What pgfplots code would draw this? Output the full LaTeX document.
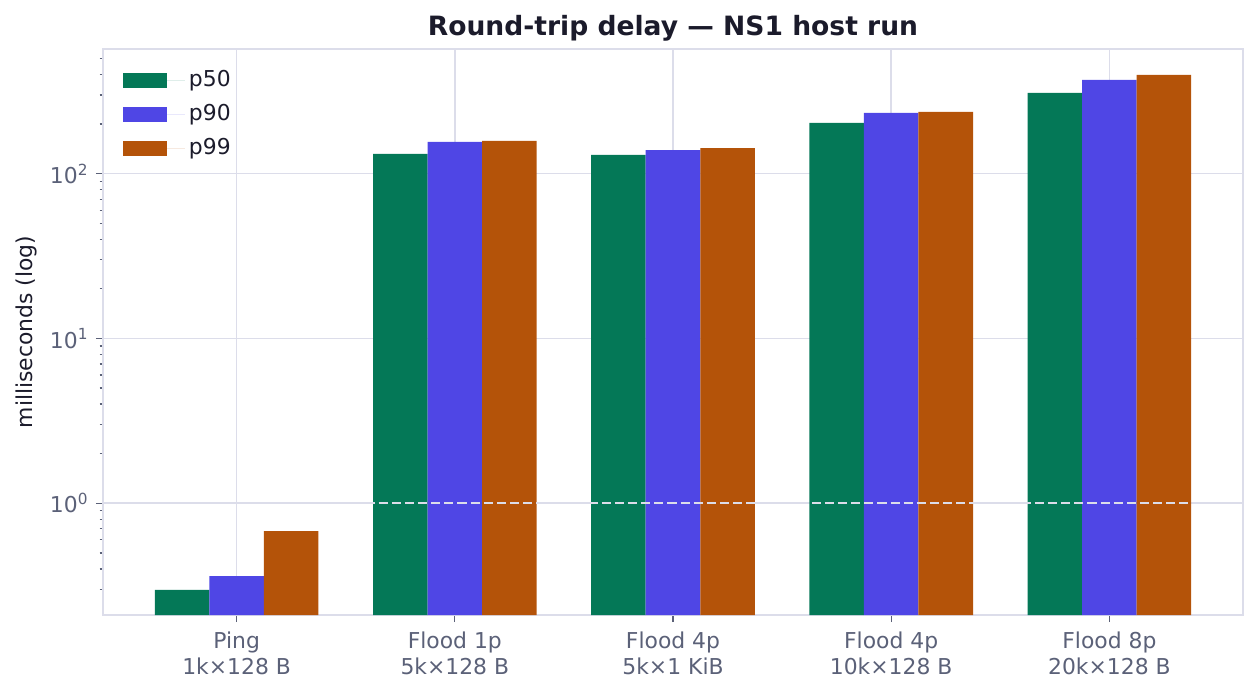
\documentclass[border=0pt]{standalone}
\usepackage{pgfplots}
\pgfplotsset{compat=1.18}
\usepackage{fontspec}
\setmainfont{DejaVu Sans}
\definecolor{cA}{HTML}{047857}
\definecolor{cB}{HTML}{4F46E5}
\definecolor{cC}{HTML}{B45309}
\definecolor{gridc}{HTML}{DCDDEA}
\definecolor{tickc}{HTML}{5B6178}
\definecolor{darkc}{HTML}{1B1B2B}
\begin{document}
\begin{tikzpicture}
\begin{axis}[
  at={(0pt,0pt)}, anchor=south west,
  scale only axis, width=547.2pt, height=271.7pt,
  ymode=log, log origin=infty,
  xmin=-0.6125, xmax=4.6125, ymin=0.21, ymax=571,
  ybar=0pt, bar width=0.25,
  xtick={0,1,2,3,4},
  xticklabels={{Ping\\1k×128 B},{Flood 1p\\5k×128 B},{Flood 4p\\5k×1 KiB},{Flood 4p\\10k×128 B},{Flood 8p\\20k×128 B}},
  xticklabel style={align=center, font=\fontsize{10.5}{12.5}\selectfont, text=tickc, yshift=-1pt},
  ytick={1,10,100},
  yticklabels={10\textsuperscript{0},10\textsuperscript{1},10\textsuperscript{2}},
  yticklabel style={font=\fontsize{10.5}{12.5}\selectfont, text=tickc},
  minor ytick={0.3,0.4,0.5,0.6,0.7,0.8,0.9,2,3,4,5,6,7,8,9,20,30,40,50,60,70,80,90,200,300,400,500},
  grid=major, grid style={gridc, line width=0.8pt},
  axis line style={gridc, line width=1pt},
  tick align=outside, tick pos=left,
  major tick length=3.4pt, minor tick length=1.6pt,
  every tick/.style={tickc, line width=0.6pt},
  ylabel={milliseconds (log)},
  every axis y label/.style={at={(axis description cs:-0.0667,0.5)}, rotate=90, anchor=center, font=\fontsize{10.5}{12.5}\selectfont, text=darkc},
  title={Round-trip delay — NS1 host run},
  title style={font=\fontsize{12.75}{15}\selectfont\bfseries, text=darkc, yshift=-6pt},
  legend style={at={(axis description cs:0.0175,0.97)}, anchor=north west, draw=none, fill=none,
    font=\fontsize{10.5}{12.5}\selectfont, text=darkc, row sep=3.0pt, inner sep=0pt},
  legend cell align=left,
  legend image code/.code={\fill[#1] (0pt,-3.6pt) rectangle (21.1pt,3.6pt); \path (0pt,0pt) -- (29.5pt,0pt);},
]
\addplot[fill=cA, draw=none, bar shift=-0.25] coordinates {(0,0.298) (1,131.7) (2,130) (3,203) (4,309)};
\addplot[fill=cB, draw=none, bar shift=0] coordinates {(0,0.362) (1,155.7) (2,139) (3,234) (4,371)};
\addplot[fill=cC, draw=none, bar shift=0.25] coordinates {(0,0.679) (1,157.9) (2,143) (3,237) (4,398)};
\addplot[sharp plot, forget plot, gridc, line width=0.9pt, dash pattern=on 4.4pt off 1.9pt] coordinates {(-0.6125,1) (4.6125,1)};
\legend{p50,p90,p99}
\end{axis}
\pgfresetboundingbox
\path[use as bounding box] (-49.44pt,-39.36pt) rectangle (554.88pt,295.2pt);
\end{tikzpicture}
\end{document}
